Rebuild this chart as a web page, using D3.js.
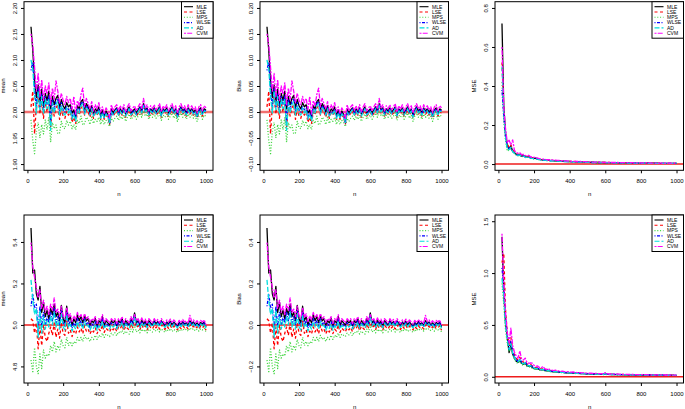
<!DOCTYPE html>
<html><head><meta charset="utf-8">
<script src="https://cdn.jsdelivr.net/npm/d3@7"></script>
<style>body{margin:0;background:#fff}svg{display:block}text{font-family:"Liberation Sans",Arial,sans-serif}</style>
</head><body><svg id="c" width="685" height="409"></svg>
<script>
const nValues = [20,30,40,50,60,70,80,90,100,110,120,130,140,150,160,170,180,190,200,210,220,230,240,250,260,270,280,290,300,310,320,330,340,350,360,370,380,390,400,410,420,430,440,450,460,470,480,490,500,510,520,530,540,550,560,570,580,590,600,610,620,630,640,650,660,670,680,690,700,710,720,730,740,750,760,770,780,790,800,810,820,830,840,850,860,870,880,890,900,910,920,930,940,950,960,970,980,990,1000];
const estimators = ["MLE","LSE","MPS","WLSE","AD","CVM"];
const xTicks = [0,200,400,600,800,1000];

// alpha = 2 : mean estimates
const alphaMeanMLE = [2.164,2.118,2.060,2.028,2.052,2.018,2.044,2.010,2.036,2.022, 2.040,2.006,2.030,2.014,2.026,2.032,2.008,2.024,2.012,2.006, 2.018,2.010,2.014,1.998,2.004,1.990,2.012,2.006,2.020,2.024, 2.004,2.016,2.010,2.000,2.012,1.998,2.006,2.002,2.010,1.994, 2.004,1.992,2.002,1.996,1.984,2.006,1.998,2.004,2.008,1.998, 2.006,2.000,2.008,1.996,2.004,2.010,1.998,2.002,2.006,1.998, 2.004,2.010,2.002,2.016,2.004,2.008,1.998,2.006,2.002,2.008, 2.000,2.004,2.010,1.996,2.006,2.002,2.008,1.998,2.004,2.010, 2.000,2.006,1.994,2.004,2.010,2.002,2.006,1.998,2.008,2.002, 2.006,2.000,2.004,1.994,2.004,2.008,1.998,2.006,2.004];
const alphaMeanLSE = [2.010,2.040,1.958,2.012,2.030,1.996,2.020,1.988,2.018,2.000, 2.020,1.972,2.010,1.992,2.008,2.014,1.986,2.006,1.992,1.988, 2.002,1.994,2.000,1.980,1.990,1.978,2.000,1.994,2.008,2.012, 1.994,2.004,2.000,1.990,2.002,1.988,1.998,1.994,2.002,1.986, 1.996,1.986,1.994,1.990,1.976,1.998,1.992,1.998,2.002,1.992, 2.000,1.994,2.002,1.990,1.998,2.004,1.992,1.996,2.000,1.992, 1.998,2.004,1.996,2.010,1.998,2.002,1.992,2.000,1.996,2.002, 1.994,1.998,2.004,1.990,2.000,1.996,2.002,1.992,1.998,2.004, 1.994,2.000,1.988,1.998,2.004,1.996,2.000,1.992,2.002,1.996, 2.000,1.994,1.998,1.988,1.998,2.002,1.992,2.000,1.998];
const alphaMeanMPS = [1.985,1.945,1.920,1.962,1.980,1.950,1.976,1.958,1.985,1.966, 1.990,1.942,1.980,1.968,1.975,1.958,1.960,1.982,1.970,1.968, 1.984,1.975,1.982,1.968,1.976,1.966,1.984,1.978,1.992,1.975, 1.978,1.990,1.986,1.976,1.990,1.978,1.986,1.982,1.990,1.976, 1.986,1.976,1.984,1.980,1.972,1.988,1.982,1.988,1.992,1.984, 1.992,1.986,1.994,1.982,1.990,1.996,1.986,1.990,1.994,1.986, 1.992,1.998,1.990,2.002,1.992,1.996,1.986,1.994,1.990,1.996, 1.988,1.992,1.998,1.984,1.994,1.990,1.996,1.986,1.992,1.998, 1.988,1.994,1.982,1.992,1.998,1.990,1.994,1.986,1.996,1.990, 1.994,1.988,1.992,1.982,1.992,1.996,1.986,1.994,1.992];
const alphaMeanWLSE = [2.080,2.096,2.044,2.010,2.046,2.010,2.036,2.002,2.030,2.014, 2.032,1.980,2.024,2.006,2.020,2.026,2.000,2.018,2.004,2.000, 2.012,2.004,2.008,1.990,2.000,1.986,2.008,2.002,2.016,2.020, 2.000,2.012,2.006,1.996,2.008,1.994,2.002,1.998,2.006,1.990, 2.000,1.990,1.998,1.994,1.978,2.002,1.996,2.002,2.006,1.996, 2.004,1.998,2.006,1.994,2.002,2.008,1.996,2.000,2.004,1.996, 2.002,2.008,2.000,2.014,2.002,2.006,1.996,2.004,2.000,2.006, 1.998,2.002,2.008,1.994,2.004,2.000,2.006,1.996,2.002,2.008, 1.998,2.004,1.992,2.002,2.008,2.000,2.004,1.996,2.006,2.000, 2.004,1.998,2.002,1.992,2.002,2.006,1.996,2.004,2.002];
const alphaMeanAD = [2.100,2.082,2.030,1.998,2.040,2.004,2.030,1.996,2.024,2.006, 2.026,1.965,2.018,1.998,2.014,2.020,1.994,2.012,1.998,1.994, 2.008,1.998,2.004,1.986,1.996,1.982,2.004,1.998,2.012,2.016, 1.996,2.008,2.004,1.994,2.006,1.992,2.000,1.996,2.004,1.988, 1.998,1.988,1.996,1.992,1.980,2.000,1.994,2.000,2.004,1.994, 2.002,1.996,2.004,1.992,2.000,2.006,1.994,1.998,2.002,1.994, 2.000,2.006,1.998,2.012,2.000,2.004,1.994,2.002,1.998,2.004, 1.996,2.000,2.006,1.992,2.002,1.998,2.004,1.994,2.000,2.006, 1.996,2.002,1.990,2.000,2.006,1.998,2.002,1.994,2.004,1.998, 2.002,1.996,2.000,1.990,2.000,2.004,1.994,2.002,2.000];
const alphaMeanCVM = [2.150,2.128,2.086,2.040,2.074,2.030,2.062,2.022,2.050,2.034, 2.056,2.014,2.046,2.024,2.060,2.040,2.018,2.036,2.022,2.014, 2.030,2.018,2.026,2.004,2.030,1.996,2.022,2.012,2.034,2.046, 2.010,2.026,2.016,2.006,2.020,2.002,2.014,2.006,2.018,2.000, 2.010,1.996,2.008,2.002,1.988,2.014,2.002,2.010,2.014,2.002, 2.012,2.004,2.014,2.000,2.010,2.016,2.002,2.008,2.012,2.002, 2.010,2.016,2.006,2.026,2.008,2.014,2.002,2.012,2.006,2.014, 2.004,2.010,2.016,2.000,2.012,2.006,2.014,2.002,2.010,2.016, 2.004,2.012,1.998,2.010,2.016,2.006,2.012,2.002,2.014,2.006, 2.012,2.004,2.010,1.998,2.010,2.014,2.002,2.012,2.008];

// alpha : MSE
const alphaMseMLE = [0.720,0.300,0.160,0.092,0.078,0.094,0.066,0.058,0.050,0.047, 0.049,0.041,0.043,0.038,0.036,0.039,0.032,0.031,0.029,0.030, 0.026,0.024,0.023,0.021,0.022,0.019,0.020,0.018,0.019,0.017, 0.017,0.016,0.016,0.015,0.015,0.014,0.014,0.013,0.013,0.012, 0.012,0.012,0.011,0.011,0.011,0.010,0.010,0.010,0.010,0.009, 0.009,0.009,0.009,0.008,0.008,0.008,0.008,0.008,0.008,0.007, 0.007,0.007,0.007,0.007,0.007,0.007,0.006,0.006,0.006,0.006, 0.006,0.006,0.006,0.006,0.006,0.005,0.005,0.005,0.005,0.005, 0.005,0.005,0.005,0.005,0.005,0.005,0.005,0.005,0.004,0.004, 0.004,0.004,0.004,0.004,0.004,0.004,0.004,0.004,0.004];
const alphaMseLSE = [0.520,0.270,0.150,0.102,0.086,0.098,0.072,0.062,0.054,0.050, 0.052,0.044,0.046,0.040,0.038,0.041,0.034,0.033,0.031,0.032, 0.028,0.026,0.025,0.022,0.023,0.020,0.021,0.019,0.020,0.018, 0.018,0.017,0.017,0.016,0.016,0.015,0.015,0.014,0.014,0.013, 0.013,0.013,0.012,0.012,0.012,0.011,0.011,0.011,0.010,0.010, 0.010,0.010,0.009,0.009,0.009,0.009,0.008,0.008,0.008,0.008, 0.008,0.008,0.007,0.007,0.007,0.007,0.007,0.007,0.006,0.006, 0.006,0.006,0.006,0.006,0.006,0.006,0.006,0.005,0.005,0.005, 0.005,0.005,0.005,0.005,0.005,0.005,0.005,0.005,0.005,0.004, 0.004,0.004,0.004,0.004,0.004,0.004,0.004,0.004,0.004];
const alphaMseMPS = [0.420,0.220,0.120,0.066,0.072,0.080,0.062,0.052,0.045,0.042, 0.044,0.037,0.039,0.034,0.033,0.035,0.029,0.028,0.026,0.027, 0.024,0.022,0.021,0.019,0.020,0.018,0.018,0.017,0.017,0.016, 0.015,0.015,0.014,0.014,0.013,0.013,0.013,0.012,0.012,0.011, 0.011,0.011,0.010,0.010,0.010,0.009,0.009,0.009,0.009,0.008, 0.008,0.008,0.008,0.008,0.007,0.007,0.007,0.007,0.007,0.007, 0.006,0.006,0.006,0.006,0.006,0.006,0.006,0.006,0.005,0.005, 0.005,0.005,0.005,0.005,0.005,0.005,0.005,0.005,0.005,0.004, 0.004,0.004,0.004,0.004,0.004,0.004,0.004,0.004,0.004,0.004, 0.004,0.004,0.004,0.004,0.004,0.003,0.003,0.003,0.003];
const alphaMseWLSE = [0.380,0.250,0.140,0.086,0.080,0.090,0.064,0.056,0.049,0.046, 0.048,0.040,0.042,0.037,0.035,0.038,0.031,0.030,0.028,0.029, 0.025,0.023,0.022,0.020,0.021,0.019,0.019,0.018,0.018,0.017, 0.016,0.016,0.015,0.015,0.014,0.014,0.013,0.013,0.012,0.012, 0.012,0.011,0.011,0.011,0.010,0.010,0.010,0.009,0.009,0.009, 0.009,0.008,0.008,0.008,0.008,0.008,0.007,0.007,0.007,0.007, 0.007,0.007,0.007,0.006,0.006,0.006,0.006,0.006,0.006,0.006, 0.006,0.005,0.005,0.005,0.005,0.005,0.005,0.005,0.005,0.005, 0.005,0.005,0.004,0.004,0.004,0.004,0.004,0.004,0.004,0.004, 0.004,0.004,0.004,0.004,0.004,0.004,0.004,0.004,0.004];
const alphaMseAD = [0.500,0.260,0.145,0.074,0.074,0.086,0.064,0.055,0.048,0.045, 0.047,0.039,0.041,0.036,0.034,0.037,0.030,0.029,0.027,0.028, 0.025,0.023,0.022,0.020,0.021,0.018,0.019,0.017,0.018,0.016, 0.016,0.015,0.015,0.014,0.014,0.013,0.013,0.012,0.012,0.012, 0.011,0.011,0.011,0.010,0.010,0.010,0.009,0.009,0.009,0.009, 0.008,0.008,0.008,0.008,0.008,0.007,0.007,0.007,0.007,0.007, 0.007,0.007,0.006,0.006,0.006,0.006,0.006,0.006,0.006,0.006, 0.005,0.005,0.005,0.005,0.005,0.005,0.005,0.005,0.005,0.005, 0.005,0.004,0.004,0.004,0.004,0.004,0.004,0.004,0.004,0.004, 0.004,0.004,0.004,0.004,0.004,0.004,0.004,0.004,0.004];
const alphaMseCVM = [0.600,0.290,0.180,0.110,0.122,0.100,0.124,0.070,0.060,0.056, 0.058,0.048,0.050,0.044,0.042,0.045,0.037,0.036,0.034,0.035, 0.030,0.028,0.027,0.025,0.026,0.022,0.023,0.021,0.022,0.020, 0.020,0.019,0.019,0.018,0.017,0.016,0.016,0.015,0.015,0.014, 0.014,0.014,0.013,0.013,0.013,0.012,0.012,0.012,0.011,0.011, 0.011,0.010,0.010,0.010,0.010,0.009,0.009,0.009,0.009,0.009, 0.008,0.008,0.008,0.008,0.008,0.008,0.007,0.007,0.007,0.007, 0.007,0.007,0.007,0.007,0.006,0.006,0.006,0.006,0.006,0.006, 0.006,0.006,0.006,0.006,0.005,0.005,0.005,0.005,0.005,0.005, 0.005,0.005,0.005,0.005,0.005,0.005,0.005,0.005,0.005];

// beta = 5 : mean estimates
const betaMeanMLE = [5.467,5.250,5.265,5.150,5.120,5.186,5.060,5.110,5.040,5.070, 5.030,5.080,5.050,5.100,5.040,5.060,5.020,5.094,5.030,5.010, 5.090,5.020,5.040,5.000,5.030,5.010,5.050,5.020,5.040,5.010, 5.046,5.020,5.030,5.000,5.020,5.010,5.030,4.996,5.020,5.010, 5.040,5.000,5.020,5.010,5.000,5.020,5.010,5.020,4.996,5.020, 5.010,5.030,5.000,5.020,5.010,5.000,5.030,5.010,5.058,5.010, 5.020,5.000,5.024,5.006,5.018,4.996,5.020,5.010,5.000,5.020, 5.006,5.016,5.000,5.020,5.008,4.996,5.014,5.004,5.018,5.000, 5.014,5.004,4.994,5.012,5.000,5.016,5.004,5.010,4.998,5.020, 5.006,5.014,5.000,5.010,4.998,5.012,5.004,5.014,4.990];
const betaMeanLSE = [5.030,5.020,4.960,5.010,4.885,4.990,4.900,5.000,4.940,4.920, 4.960,4.990,4.950,5.010,4.940,4.980,4.936,5.010,4.960,4.950, 5.020,4.960,4.976,4.944,4.970,4.956,4.990,4.966,4.984,4.958, 4.996,4.970,4.980,4.956,4.976,4.966,4.986,4.958,4.980,4.970, 5.000,4.964,4.984,4.976,4.966,4.986,4.976,4.988,4.968,4.990, 4.982,5.000,4.972,4.994,4.984,4.976,5.004,4.986,5.030,4.986, 4.996,4.978,5.000,4.984,4.996,4.976,4.998,4.988,4.980,4.998, 4.986,4.996,4.980,5.000,4.988,4.978,4.994,4.984,4.998,4.982, 4.994,4.986,4.976,4.992,4.982,4.996,4.986,4.992,4.980,5.000, 4.988,4.994,4.982,4.992,4.980,4.994,4.986,4.996,4.974];
const betaMeanMPS = [4.830,4.775,4.890,4.800,4.765,4.860,4.790,4.880,4.840,4.860, 4.850,4.900,4.870,4.920,4.870,4.900,4.880,4.930,4.900,4.890, 4.940,4.900,4.920,4.900,4.920,4.910,4.940,4.920,4.940,4.920, 4.950,4.930,4.940,4.920,4.940,4.930,4.950,4.930,4.950,4.940, 4.960,4.940,4.956,4.950,4.944,4.960,4.952,4.962,4.948,4.966, 4.960,4.974,4.956,4.970,4.962,4.956,4.980,4.966,4.996,4.966, 4.976,4.962,4.980,4.968,4.978,4.962,4.980,4.972,4.966,4.980, 4.970,4.978,4.966,4.982,4.972,4.964,4.978,4.970,4.982,4.968, 4.978,4.972,4.964,4.978,4.970,4.982,4.974,4.980,4.970,4.986, 4.976,4.982,4.972,4.980,4.970,4.982,4.976,4.984,4.966];
const betaMeanWLSE = [5.090,5.150,5.080,5.100,4.970,5.090,4.990,5.060,5.000,5.040, 5.010,5.060,5.020,5.080,5.010,5.040,5.000,5.070,5.010,4.994, 5.066,5.000,5.020,4.984,5.010,4.994,5.030,5.004,5.020,4.994, 5.030,5.004,5.014,4.986,5.006,4.996,5.016,4.986,5.008,4.998, 5.028,4.990,5.010,5.000,4.990,5.010,5.000,5.010,4.988,5.010, 5.002,5.020,4.992,5.012,5.002,4.994,5.022,5.004,5.048,5.004, 5.014,4.994,5.018,5.000,5.012,4.992,5.014,5.004,4.996,5.014, 5.002,5.012,4.996,5.016,5.004,4.992,5.010,5.000,5.014,4.996, 5.010,5.000,4.990,5.008,4.996,5.012,5.000,5.006,4.994,5.016, 5.002,5.010,4.996,5.006,4.994,5.008,5.000,5.010,4.988];
const betaMeanAD = [5.217,5.120,5.050,5.080,4.940,5.070,4.960,5.040,4.980,5.020, 4.990,5.040,5.000,5.060,4.990,5.020,4.980,5.050,4.990,4.976, 5.050,4.986,5.004,4.970,4.996,4.980,5.016,4.990,5.006,4.980, 5.016,4.990,5.000,4.974,4.994,4.984,5.004,4.974,4.996,4.986, 5.016,4.980,4.998,4.990,4.980,5.000,4.990,5.000,4.980,5.000, 4.994,5.012,4.984,5.004,4.994,4.986,5.014,4.996,5.040,4.996, 5.006,4.988,5.010,4.994,5.006,4.986,5.008,4.998,4.990,5.008, 4.996,5.006,4.990,5.010,4.998,4.988,5.004,4.994,5.008,4.992, 5.004,4.996,4.986,5.002,4.992,5.006,4.996,5.002,4.990,5.010, 4.998,5.004,4.992,5.002,4.990,5.004,4.996,5.006,4.984];
const betaMeanCVM = [5.397,5.280,5.230,5.180,5.130,5.170,5.080,5.120,5.060,5.090, 5.050,5.100,5.070,5.130,5.060,5.076,5.040,5.090,5.044,5.030, 5.084,5.036,5.054,5.016,5.044,5.024,5.060,5.034,5.050,5.024, 5.054,5.030,5.040,5.010,5.030,5.020,5.040,5.006,5.030,5.020, 5.050,5.010,5.030,5.020,5.010,5.030,5.020,5.030,5.006,5.030, 5.020,5.040,5.010,5.030,5.020,5.010,5.040,5.020,5.050,5.020, 5.030,5.010,5.034,5.016,5.028,5.006,5.030,5.020,5.010,5.030, 5.016,5.026,5.010,5.030,5.018,5.006,5.024,5.014,5.028,5.010, 5.024,5.014,5.004,5.022,5.010,5.026,5.014,5.020,5.008,5.046, 5.016,5.024,5.010,5.020,5.008,5.022,5.014,5.024,5.000];

// beta : MSE
const betaMseMLE = [1.350,0.820,0.520,0.380,0.233,0.300,0.220,0.180,0.150,0.140, 0.160,0.130,0.120,0.130,0.110,0.100,0.105,0.090,0.080,0.075, 0.078,0.070,0.066,0.070,0.062,0.058,0.060,0.054,0.050,0.048, 0.050,0.046,0.044,0.042,0.043,0.040,0.038,0.039,0.036,0.035, 0.036,0.034,0.033,0.032,0.031,0.030,0.030,0.029,0.028,0.028, 0.027,0.027,0.026,0.026,0.025,0.025,0.024,0.024,0.026,0.023, 0.023,0.022,0.022,0.022,0.021,0.021,0.020,0.020,0.020,0.019, 0.019,0.019,0.018,0.018,0.018,0.018,0.017,0.017,0.017,0.017, 0.016,0.016,0.016,0.016,0.016,0.015,0.015,0.015,0.015,0.015, 0.015,0.014,0.014,0.014,0.014,0.014,0.014,0.013,0.013];
const betaMseLSE = [1.100,1.190,0.640,0.420,0.300,0.380,0.260,0.210,0.180,0.160, 0.190,0.150,0.140,0.150,0.125,0.115,0.120,0.105,0.092,0.086, 0.088,0.080,0.075,0.080,0.070,0.066,0.068,0.061,0.057,0.054, 0.056,0.052,0.050,0.047,0.048,0.045,0.043,0.044,0.041,0.039, 0.040,0.038,0.037,0.036,0.035,0.034,0.033,0.032,0.031,0.031, 0.030,0.030,0.029,0.029,0.028,0.027,0.027,0.026,0.030,0.025, 0.025,0.025,0.024,0.024,0.023,0.023,0.022,0.022,0.022,0.021, 0.021,0.021,0.020,0.020,0.020,0.019,0.019,0.019,0.019,0.018, 0.018,0.018,0.018,0.017,0.017,0.017,0.017,0.016,0.016,0.016, 0.016,0.016,0.015,0.015,0.015,0.015,0.015,0.014,0.014];
const betaMseMPS = [0.900,0.700,0.450,0.320,0.250,0.290,0.210,0.170,0.140,0.130, 0.150,0.120,0.110,0.120,0.100,0.092,0.096,0.082,0.074,0.070, 0.072,0.065,0.061,0.065,0.057,0.054,0.056,0.050,0.047,0.045, 0.046,0.043,0.041,0.039,0.040,0.037,0.035,0.036,0.034,0.033, 0.033,0.032,0.031,0.030,0.029,0.028,0.028,0.027,0.026,0.026, 0.025,0.025,0.024,0.024,0.023,0.023,0.022,0.022,0.025,0.021, 0.021,0.021,0.020,0.020,0.020,0.019,0.019,0.019,0.018,0.018, 0.018,0.018,0.017,0.017,0.017,0.017,0.016,0.016,0.016,0.016, 0.015,0.015,0.015,0.015,0.015,0.014,0.014,0.014,0.014,0.014, 0.014,0.013,0.013,0.013,0.013,0.013,0.013,0.012,0.012];
const betaMseWLSE = [1.050,0.860,0.560,0.400,0.270,0.340,0.240,0.195,0.165,0.150, 0.175,0.140,0.130,0.140,0.118,0.108,0.112,0.098,0.086,0.080, 0.082,0.075,0.070,0.075,0.066,0.062,0.064,0.057,0.053,0.051, 0.053,0.049,0.047,0.044,0.045,0.042,0.040,0.041,0.038,0.037, 0.038,0.036,0.035,0.034,0.033,0.032,0.031,0.030,0.029,0.029, 0.028,0.028,0.027,0.027,0.026,0.026,0.025,0.025,0.028,0.024, 0.024,0.023,0.023,0.023,0.022,0.022,0.021,0.021,0.021,0.020, 0.020,0.020,0.019,0.019,0.019,0.019,0.018,0.018,0.018,0.018, 0.017,0.017,0.017,0.017,0.017,0.016,0.016,0.016,0.016,0.016, 0.016,0.015,0.015,0.015,0.015,0.015,0.015,0.014,0.014];
const betaMseAD = [0.950,0.780,0.500,0.360,0.260,0.320,0.230,0.185,0.155,0.145, 0.165,0.135,0.125,0.135,0.114,0.104,0.108,0.094,0.083,0.078, 0.080,0.072,0.068,0.072,0.064,0.060,0.062,0.055,0.051,0.049, 0.051,0.047,0.045,0.043,0.044,0.041,0.039,0.040,0.037,0.036, 0.037,0.035,0.034,0.033,0.032,0.031,0.030,0.030,0.029,0.028, 0.028,0.027,0.027,0.026,0.026,0.025,0.025,0.024,0.027,0.024, 0.023,0.023,0.022,0.022,0.022,0.021,0.021,0.020,0.020,0.020, 0.019,0.019,0.019,0.018,0.018,0.018,0.018,0.017,0.017,0.017, 0.017,0.016,0.016,0.016,0.016,0.016,0.015,0.015,0.015,0.015, 0.015,0.015,0.014,0.014,0.014,0.014,0.014,0.014,0.013];
const betaMseCVM = [1.380,0.900,0.620,0.420,0.330,0.470,0.300,0.240,0.200,0.180, 0.250,0.170,0.160,0.180,0.140,0.130,0.135,0.132,0.110,0.100, 0.105,0.090,0.085,0.100,0.078,0.072,0.080,0.068,0.064,0.060, 0.064,0.058,0.056,0.052,0.054,0.050,0.048,0.050,0.046,0.044, 0.046,0.043,0.041,0.040,0.039,0.038,0.037,0.036,0.035,0.034, 0.034,0.033,0.032,0.032,0.031,0.030,0.030,0.029,0.040,0.028, 0.028,0.027,0.027,0.026,0.026,0.025,0.025,0.024,0.024,0.023, 0.023,0.023,0.022,0.022,0.022,0.021,0.021,0.021,0.020,0.020, 0.020,0.020,0.019,0.019,0.019,0.019,0.018,0.018,0.018,0.018, 0.018,0.017,0.017,0.017,0.017,0.016,0.016,0.016,0.016];

const alphaTrue = 2, betaTrue = 5;
const yTicksAlphaMean = [1.90,1.95,2.00,2.05,2.10,2.15,2.20];
const yTicksAlphaBias = [-0.10,-0.05,0.00,0.05,0.10,0.15,0.20];
const yTicksAlphaMse = [0.0,0.2,0.4,0.6,0.8];
const yTicksBetaMean = [4.8,5.0,5.2,5.4];
const yTicksBetaBias = [-0.2,0.0,0.2,0.4];
const yTicksBetaMse = [0.0,0.5,1.0,1.5];

const colors = ["#000000","#ff0000","#3ad43a","#0000ff","#00dede","#ff00ff"];
const dashes = [null,"3,2.5","1,1.8","1,1.5,3,1.5","5,2","2,1.2,5,1.2"];

const alphaMeans = [alphaMeanMLE,alphaMeanLSE,alphaMeanMPS,alphaMeanWLSE,alphaMeanAD,alphaMeanCVM];
const betaMeans = [betaMeanMLE,betaMeanLSE,betaMeanMPS,betaMeanWLSE,betaMeanAD,betaMeanCVM];

const colX = [[24,213],[260,448.5],[495,683.5]];
const rowY = [[1.7,170.3],[215,383]];

const panels = [
  {c:0,r:0,lab:"mean",s:alphaMeans,ref:alphaTrue,lim:[1.9,2.2],ticks:yTicksAlphaMean,fmt:".2f"},
  {c:1,r:0,lab:"Bias",s:alphaMeans.map(a=>a.map(v=>v-alphaTrue)),ref:0,lim:[-0.1,0.2],ticks:yTicksAlphaBias,fmt:".2f"},
  {c:2,r:0,lab:"MSE",s:[alphaMseMLE,alphaMseLSE,alphaMseMPS,alphaMseWLSE,alphaMseAD,alphaMseCVM],ref:0,lim:[0,0.8],ticks:yTicksAlphaMse,fmt:".1f"},
  {c:0,r:1,lab:"mean",s:betaMeans,ref:betaTrue,lim:[4.75,5.5],ticks:yTicksBetaMean,fmt:".1f"},
  {c:1,r:1,lab:"Bias",s:betaMeans.map(a=>a.map(v=>v-betaTrue)),ref:0,lim:[-0.25,0.5],ticks:yTicksBetaBias,fmt:".1f"},
  {c:2,r:1,lab:"MSE",s:[betaMseMLE,betaMseLSE,betaMseMPS,betaMseWLSE,betaMseAD,betaMseCVM],ref:0,lim:[0,1.5],ticks:yTicksBetaMse,fmt:".1f"}
];

const svg = d3.select("#c");
const xExt = (1000-20)*0.04;
const FONT = "Liberation Sans, Arial, sans-serif";

panels.forEach((p,pi)=>{
  const [L,R] = colX[p.c], [T,B] = rowY[p.r];
  const x = d3.scaleLinear().domain([20-xExt,1000+xExt]).range([L,R]);
  const e = (p.lim[1]-p.lim[0])*0.04;
  const y = d3.scaleLinear().domain([p.lim[0]-e,p.lim[1]+e]).range([B,T]);
  const g = svg.append("g");
  const cid = "clip"+pi;
  svg.append("clipPath").attr("id",cid).append("rect").attr("x",L).attr("y",T).attr("width",R-L).attr("height",B-T);

  // red reference line
  g.append("line").attr("x1",L).attr("x2",R).attr("y1",y(p.ref)).attr("y2",y(p.ref))
    .attr("stroke", p.r===0 && p.c<2 ? "#f07070" : "#ee1c1c")
    .attr("stroke-width", p.r===0 && p.c<2 ? 2.4 : 1.4)
    .attr("clip-path",`url(#${cid})`);

  const line = d3.line().x((d,i)=>x(nValues[i])).y(d=>y(d));
  const lg = g.append("g").attr("clip-path",`url(#${cid})`);
  p.s.forEach((arr,k)=>{
    lg.append("path").attr("d",line(arr)).attr("fill","none")
      .attr("stroke",colors[k]).attr("stroke-width",1.3)
      .attr("stroke-dasharray",dashes[k]).attr("stroke-linejoin","round");
  });

  // box
  g.append("rect").attr("x",L).attr("y",T).attr("width",R-L).attr("height",B-T)
    .attr("fill","none").attr("stroke","#000").attr("stroke-width",1);

  // x axis
  const xa = g.append("g").attr("transform",`translate(0,${B})`)
    .call(d3.axisBottom(x).tickValues(xTicks).tickSize(3).tickSizeOuter(0).tickPadding(5.5).tickFormat(d3.format("d")));
  xa.select(".domain").remove();
  xa.selectAll("text").attr("font-size",6).attr("fill","#000").attr("font-family",FONT);
  xa.selectAll("line").attr("stroke","#000");

  // y axis
  const ya = g.append("g").attr("transform",`translate(${L},0)`)
    .call(d3.axisLeft(y).tickValues(p.ticks).tickSize(3).tickSizeOuter(0).tickFormat(d3.format(p.fmt)));
  ya.select(".domain").remove();
  ya.selectAll("line").attr("stroke","#000");
  ya.selectAll("text").attr("font-size",6).attr("fill","#000").attr("font-family",FONT)
    .attr("transform","rotate(-90)").attr("x",0).attr("y",-7.5).attr("dy",null).attr("text-anchor","middle");

  // axis titles
  g.append("text").attr("x",(L+R)/2 + 0.5).attr("y",B+25.5).attr("text-anchor","middle")
    .attr("font-size",6).attr("fill","#000").attr("font-family",FONT).text("n");
  g.append("text").attr("transform",`translate(${L-19.5},${(T+B)/2}) rotate(-90)`)
    .attr("text-anchor","middle").attr("font-size",6).attr("fill","#000").attr("font-family",FONT).text(p.lab);

  // legend
  const lw = 31.5, lh = 36.5;
  const lx = R-lw, ly = T;
  const leg = g.append("g");
  leg.append("rect").attr("x",lx).attr("y",ly).attr("width",lw).attr("height",lh)
    .attr("fill","#fff").attr("stroke","#000").attr("stroke-width",1);
  estimators.forEach((name,k)=>{
    const yy = ly + 5 + k*5.3;
    leg.append("line").attr("x1",lx+2.5).attr("x2",lx+11.5).attr("y1",yy).attr("y2",yy)
      .attr("stroke",colors[k]).attr("stroke-width",1.1).attr("stroke-dasharray",dashes[k]);
    leg.append("text").attr("x",lx+15).attr("y",yy+1.8).attr("font-size",5).attr("fill","#000")
      .attr("font-family",FONT).text(name);
  });
});
</script></body></html>
